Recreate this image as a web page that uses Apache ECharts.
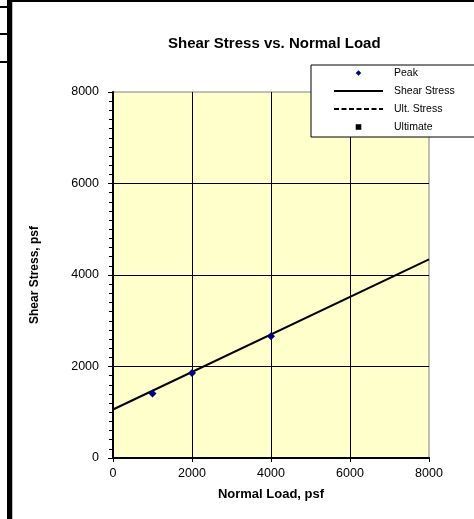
<!DOCTYPE html>
<html>
<head>
<meta charset="utf-8">
<script src="https://cdn.jsdelivr.net/npm/echarts@6/dist/echarts.min.js"></script>
<style>
  html, body { margin: 0; padding: 0; background: #fff; }
  #chart { width: 474px; height: 519px; }
</style>
</head>
<body>
<div id="chart"></div>
<script>
// Direct shear test results
const titleText = 'Shear Stress vs. Normal Load';
const xAxisTitle = 'Normal Load, psf';
const yAxisTitle = 'Shear Stress, psf';
const seriesNames = ['Peak', 'Shear Stress', 'Ult. Stress', 'Ultimate'];

// Peak shear stress measured at each normal load (psf)
const peakNormalLoad = [1000, 2000, 4000];
const peakShear = [1410, 1860, 2660];

// Failure envelope end points (normal load, shear stress)
const envelopeLoad = [0, 8000];
const envelopeShear = [1060, 4340];

// Ultimate stress data (none recorded)
const ultLoad = [];
const ultShear = [];

const axisMin = 0, axisMax = 8000, axisStep = 2000;

const pairs = (xs, ys) => xs.map((x, i) => [x, ys[i]]);
const plainNumber = (v) => String(v);

const fontFamily = '"Liberation Sans", Arial, sans-serif';
const chart = echarts.init(document.getElementById('chart'), null, { renderer: 'canvas' });

chart.setOption({
  animation: false,
  textStyle: { fontFamily: fontFamily, color: '#000' },
  title: {
    text: titleText,
    left: 168,
    top: 36,
    padding: 0,
    textStyle: { fontSize: 15, fontWeight: 'bold', color: '#000', fontFamily: fontFamily }
  },
  legend: {
    orient: 'vertical',
    left: 311,
    top: 65,
    padding: [2, 200, 4, 22],
    itemWidth: 49,
    itemHeight: 7,
    itemGap: 6,
    backgroundColor: '#fff',
    borderColor: '#000',
    borderWidth: 1,
    borderRadius: 0,
    textStyle: { fontSize: 10.5, lineHeight: 12, color: '#000', fontFamily: fontFamily, padding: [0, 0, 0, 6] },
    data: [
      { name: seriesNames[0] },
      { name: seriesNames[1], itemStyle: { opacity: 0 } },
      { name: seriesNames[2], itemStyle: { opacity: 0 } },
      { name: seriesNames[3] }
    ]
  },
  grid: {
    left: 113,
    right: 45,
    top: 92,
    bottom: 61,
    show: true,
    backgroundColor: '#FFFFCC',
    borderColor: '#808080',
    borderWidth: 1
  },
  xAxis: {
    type: 'value',
    min: axisMin,
    max: axisMax,
    interval: axisStep,
    name: xAxisTitle,
    nameLocation: 'middle',
    nameGap: 30,
    nameTextStyle: { fontSize: 13, fontWeight: 'bold', color: '#000' },
    axisLine: { show: true, onZero: false, lineStyle: { color: '#000', width: 2 } },
    axisTick: { show: true, length: 4, lineStyle: { color: '#000', width: 1 } },
    axisLabel: { fontSize: 12.5, color: '#000', margin: 9, formatter: plainNumber },
    splitLine: { show: true, showMinLine: false, showMaxLine: false, lineStyle: { color: '#000', width: 1 } }
  },
  yAxis: {
    type: 'value',
    min: axisMin,
    max: axisMax,
    interval: axisStep,
    name: yAxisTitle,
    nameLocation: 'middle',
    nameGap: 72,
    nameTextStyle: { fontSize: 12, fontWeight: 'bold', color: '#000' },
    axisLine: { show: true, onZero: false, lineStyle: { color: '#000', width: 2 } },
    axisTick: { show: true, length: 5, lineStyle: { color: '#000', width: 1 } },
    minorTick: { show: true, splitNumber: 10, length: 4, lineStyle: { color: '#000', width: 1 } },
    axisLabel: { fontSize: 12.5, color: '#000', margin: 14, formatter: plainNumber },
    splitLine: { show: true, showMinLine: false, showMaxLine: false, lineStyle: { color: '#000', width: 1 } }
  },
  series: [
    {
      name: seriesNames[0],
      type: 'line',
      data: pairs(peakNormalLoad, peakShear),
      symbol: 'diamond',
      symbolSize: 8,
      showSymbol: true,
      lineStyle: { width: 0 },
      itemStyle: { color: '#000080' },
      z: 5
    },
    {
      name: seriesNames[1],
      type: 'line',
      data: pairs(envelopeLoad, envelopeShear),
      symbol: 'none',
      lineStyle: { color: '#000', width: 2 },
      itemStyle: { color: '#000' },
      z: 4
    },
    {
      name: seriesNames[2],
      type: 'line',
      data: pairs(ultLoad, ultShear),
      symbol: 'none',
      lineStyle: { color: '#000', width: 1.5, type: [5, 2.5] },
      itemStyle: { color: '#000' }
    },
    {
      name: seriesNames[3],
      type: 'line',
      data: pairs(ultLoad, ultShear),
      symbol: 'rect',
      symbolSize: 7,
      lineStyle: { width: 0 },
      itemStyle: { color: '#000' }
    }
  ],
  graphic: [
    // worksheet frame edges around the chart object
    { type: 'rect', left: 7, top: 0, shape: { width: 5, height: 519 }, style: { fill: '#000' }, silent: true },
    { type: 'rect', left: 12, top: 0, shape: { width: 462, height: 2 }, style: { fill: '#000' }, silent: true },
    { type: 'rect', left: 12, top: 2, shape: { width: 1, height: 517 }, style: { fill: '#bbb' }, silent: true },
    { type: 'rect', left: 0, top: 6, shape: { width: 7, height: 2 }, style: { fill: '#000' }, silent: true },
    { type: 'rect', left: 0, top: 33, shape: { width: 7, height: 2 }, style: { fill: '#000' }, silent: true },
    { type: 'rect', left: 0, top: 61, shape: { width: 7, height: 2 }, style: { fill: '#000' }, silent: true },
    // legend box runs past the right edge of the view
    { type: 'rect', x: 468, y: 66.5, z: 1000, zlevel: 0, shape: { width: 8, height: 69 }, style: { fill: '#fff' }, silent: true }
  ]
});
</script>
</body>
</html>
